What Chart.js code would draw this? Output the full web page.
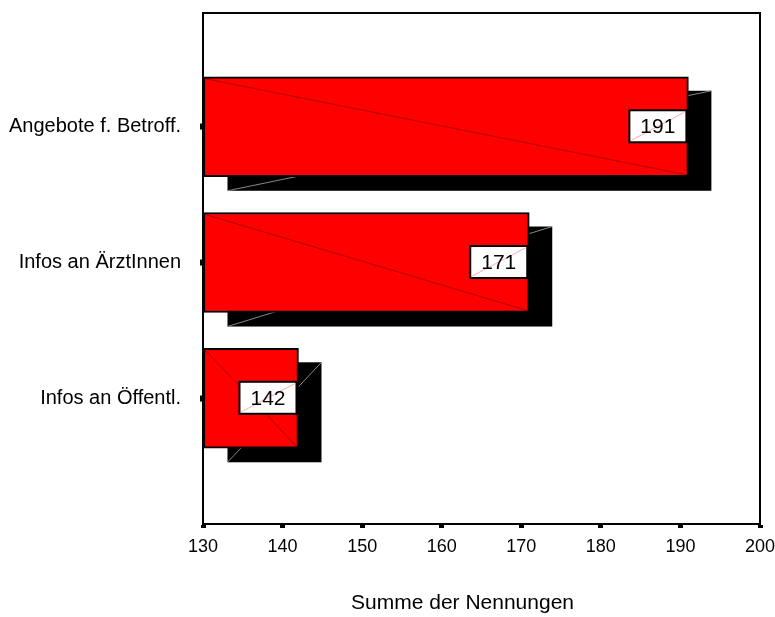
<!DOCTYPE html>
<html>
<head>
<meta charset="utf-8">
<script src="https://cdn.jsdelivr.net/npm/chart.js@4/dist/chart.umd.min.js"></script>
<style>
  html, body { margin: 0; padding: 0; background: #ffffff; }
  #wrap { width: 775px; height: 617px; }
</style>
</head>
<body>
<div id="wrap"><canvas id="c" width="775" height="617"></canvas></div>
<script>
// Categories and totals
const categories = ['Angebote f. Betroff.', 'Infos an ÄrztInnen', 'Infos an Öffentl.'];
const values = [191, 171, 142];

// Value axis
const axisMin = 130;
const axisMax = 200;
const axisStep = 10;
const axisTitle = 'Summe der Nennungen';

const FONT = '"Liberation Sans", Arial, Helvetica, sans-serif';

// Dark drop shadow with its faint diagonal, drawn behind each bar
const shadowPlugin = {
  id: 'barShadow',
  beforeDatasetsDraw(chart) {
    const ctx = chart.ctx;
    const area = chart.chartArea;
    const meta = chart.getDatasetMeta(0);
    ctx.save();
    ctx.beginPath();
    ctx.rect(area.left, area.top, area.right - area.left, area.bottom - area.top);
    ctx.clip();
    meta.data.forEach((bar) => {
      const p = bar.getProps(['x', 'y', 'base', 'height'], true);
      const dx = 23, dy = 14;
      const left = p.base + dx + 1;
      const right = p.x + dx;
      const top = p.y - p.height / 2 + dy;
      const bottom = p.y + p.height / 2 + dy;
      ctx.fillStyle = '#000000';
      ctx.fillRect(left, top, right - left, bottom - top);
      ctx.strokeStyle = 'rgba(150,150,150,0.9)';
      ctx.lineWidth = 1;
      ctx.beginPath();
      ctx.moveTo(left, bottom);
      ctx.lineTo(right, top);
      ctx.stroke();
    });
    ctx.restore();
  }
};

// Diagonal seam on the bars, value boxes, plot frame and axis title
const overlayPlugin = {
  id: 'overlay',
  afterDatasetsDraw(chart) {
    const ctx = chart.ctx;
    const area = chart.chartArea;
    const meta = chart.getDatasetMeta(0);
    ctx.save();
    meta.data.forEach((bar, i) => {
      const p = bar.getProps(['x', 'y', 'base', 'height'], true);
      const top = p.y - p.height / 2;
      const bottom = p.y + p.height / 2;
      // seam across the bar face
      ctx.strokeStyle = 'rgba(110,0,0,0.55)';
      ctx.lineWidth = 1;
      ctx.beginPath();
      ctx.moveTo(p.base + 2, top + 2);
      ctx.lineTo(p.x - 2, bottom - 2);
      ctx.stroke();

      // value box
      const w = 57, h = 32;
      const bx = p.x - 2 - w;
      const by = p.y - 0.5 - h / 2;
      ctx.fillStyle = '#ffffff';
      ctx.fillRect(bx, by, w, h);
      ctx.strokeStyle = 'rgba(255,150,150,0.8)';
      ctx.lineWidth = 1;
      ctx.beginPath();
      ctx.moveTo(bx + 2, by + h - 2);
      ctx.lineTo(bx + w - 2, by + 2);
      ctx.stroke();
      ctx.strokeStyle = '#000000';
      ctx.lineWidth = 2;
      ctx.strokeRect(bx, by, w, h);
      ctx.fillStyle = '#000000';
      ctx.font = '21px ' + FONT;
      ctx.textAlign = 'center';
      ctx.textBaseline = 'middle';
      ctx.fillText(String(values[i]), bx + w / 2, by + h / 2 + 1);
    });
    // frame around the plot area
    ctx.strokeStyle = '#000000';
    ctx.lineWidth = 2;
    ctx.strokeRect(area.left, area.top, area.right - area.left, area.bottom - area.top);

    // axis title under the value axis
    ctx.fillStyle = '#000000';
    ctx.font = '21px ' + FONT;
    ctx.textAlign = 'center';
    ctx.textBaseline = 'middle';
    ctx.fillText(axisTitle, (area.left + area.right) / 2 - 19, area.bottom + 79);
    ctx.restore();
  }
};

const chart = new Chart(document.getElementById('c'), {
  type: 'bar',
  data: {
    datasets: [{
      data: values.map((v, i) => ({ x: v, y: i })),
      base: axisMin,
      backgroundColor: '#ff0000',
      borderColor: '#000000',
      borderWidth: 2,
      borderSkipped: false,
      barThickness: 100
    }]
  },
  options: {
    indexAxis: 'y',
    responsive: false,
    animation: false,
    events: [],
    layout: { padding: { top: 13, right: 15, left: 0, bottom: 0 } },
    plugins: {
      legend: { display: false },
      tooltip: { enabled: false }
    },
    scales: {
      x: {
        type: 'linear',
        min: axisMin,
        max: axisMax,
        ticks: {
          stepSize: axisStep,
          color: '#000000',
          font: { family: FONT, size: 18 },
          padding: 8
        },
        grid: {
          drawOnChartArea: false,
          drawTicks: true,
          tickLength: 4,
          tickWidth: 5,
          tickColor: '#000000'
        },
        border: { display: true, color: '#000000', width: 2 },
        afterFit(scale) {
          scale.height = 93;
          scale.paddingLeft = 0;
          scale.paddingRight = 0;
        }
      },
      y: {
        type: 'linear',
        reverse: true,
        offset: false,
        min: -0.838,
        max: 2.926,
        afterBuildTicks(scale) {
          scale.ticks = categories.map((_, i) => ({ value: i }));
        },
        ticks: {
          color: '#000000',
          font: { family: FONT, size: 20 },
          padding: 19,
          autoSkip: false,
          callback: (v) => categories[v]
        },
        grid: {
          offset: false,
          drawOnChartArea: false,
          drawTicks: true,
          tickLength: 3,
          tickWidth: 6,
          tickColor: '#000000'
        },
        border: { display: true, color: '#000000', width: 2 },
        afterFit(scale) {
          scale.width = 203;
          scale.paddingTop = 0;
          scale.paddingBottom = 0;
        }
      }
    }
  },
  plugins: [shadowPlugin, overlayPlugin]
});
</script>
</body>
</html>
